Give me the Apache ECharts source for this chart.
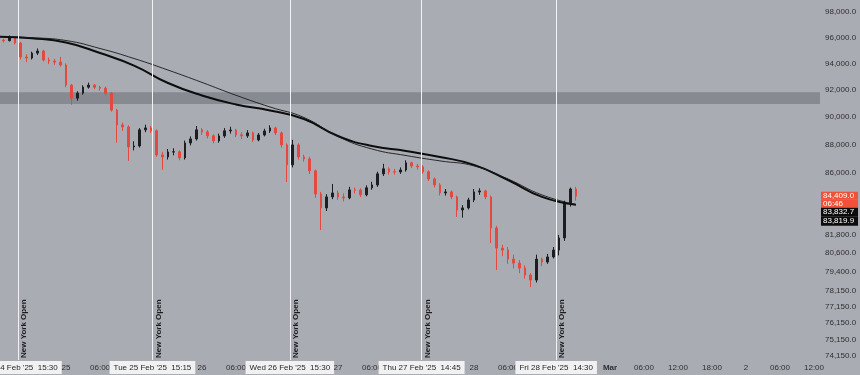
<!DOCTYPE html>
<html><head><meta charset="utf-8">
<script src="https://cdn.jsdelivr.net/npm/echarts@6/dist/echarts.min.js"></script>
<style>html,body{margin:0;padding:0;background:#a9acb2}#c{width:860px;height:375px}</style>
</head><body><div id="c"></div>
<script>
// Time unit: hours since 2025-02-25 00:00. Hourly candles starting 24 Feb 12:00.
const candleStartHour = -12;
const opens = [95700,95800,95750,95960,95570,94490,94410,94790,94950,94260,
 94180,94100,93880,92360,91390,91760,92210,92360,92200,92130,
 91760,90510,89430,89280,87850,87920,89070,89210,89000,87280,
 87140,87490,87500,87070,88130,88420,89070,88920,88640,88280,
 88630,89000,89060,88710,88640,88850,88350,88700,88990,89210,
 88850,87990,86580,87990,87140,87000,86160,84560,83610,84360,
 84630,84350,84290,84840,84830,84500,84980,85180,85950,86300,
 86090,86080,86220,86720,86500,86440,86090,85600,85180,84630,
 84700,84360,83470,83610,84150,84700,84770,84360,82260,80930,
 80800,80210,79950,79630,79180,78860,80210,80020,80350,80800,
 81600,83950,84900];
const closes = [95800,95750,95960,95570,94490,94410,94790,94950,94260,94180,
 94100,93880,92360,91390,91760,92210,92360,92200,92130,91760,
 90510,89430,89280,87850,87920,89070,89210,89000,87280,87140,
 87490,87500,87070,88130,88420,89070,88920,88640,88280,88630,
 89000,89060,88710,88640,88850,88350,88700,88990,89210,88850,
 87990,86580,87990,87140,87000,86160,84560,83610,84360,84630,
 84350,84290,84840,84830,84500,84980,85180,85950,86300,86090,
 86080,86220,86720,86500,86440,86090,85600,85180,84630,84700,
 84360,83470,83610,84150,84700,84770,84360,82260,80930,80800,
 80210,79950,79630,79180,78860,80210,80020,80350,80800,81600,
 83950,84900,84409];
const lows = [95550,95600,95700,95450,94300,94100,94300,94650,94150,93950,
 93900,93750,92200,90900,91200,91650,92100,92050,91950,91600,
 90400,88150,89000,86860,87600,87800,88900,88850,87150,86230,
 86950,87250,86900,86950,87950,88300,88700,88450,88100,88150,
 88500,88800,88550,88400,88500,88200,88250,88600,88850,88700,
 87800,85390,86400,86950,86800,85950,84300,82130,83400,84200,
 84150,84050,84200,84600,84350,84400,84850,85050,85800,85900,
 85900,85950,86100,86350,86250,85950,85450,85000,84450,84450,
 84200,83000,82950,83500,84000,84500,84200,81260,79510,80400,
 79900,79600,79300,78950,78410,78700,79750,79900,80250,80450,
 81400,83700,84100];
const highs = [95950,95900,96150,96050,95650,94700,94900,95150,95050,94450,
 94350,94500,94000,92450,91900,92350,92550,92450,92300,92250,
 91850,90600,89600,89400,88250,89200,89450,89350,89100,87500,
 87700,87750,87600,88300,88600,89350,89200,89050,88750,88800,
 89200,89300,89150,88900,89050,88950,88850,89150,89400,89300,
 88950,88100,88350,88100,87300,87150,86250,84700,84550,85250,
 84800,84600,85050,85000,84950,85150,85400,86100,86650,86400,
 86300,86400,86900,86800,86650,86550,86200,85700,85300,84900,
 84800,84450,83800,84300,84900,84950,84850,84450,82400,81150,
 81000,80500,80150,79800,79300,80500,80300,80550,81000,81800,
 84100,85000,85050];

// Moving averages (every 6 hours)
const maHours = [-12,-6,0,6,12,18,24,30,36,42,48,54,60,66,72,78,84,90];
const maThick = [96057,95932,95606,94798,93838,92518,91588,90923,90482,89857,88627,87911,87556,87139,86575,85521,84358,83820];
const maThin  = [96057,95979,95761,95144,94376,93496,92563,91603,90739,89967,88590,87698,87237,86857,86505,85590,84495,83833];

const priceTicks = [98000,96000,94000,92000,90000,88000,86000,81800,80600,79400,78150,77150,76150,75150,74150];
const timeTickHours = [0,6,24,30,48,54,72,78,96,102,108,114,120,126,132];
const timeTickLabels = ['25','06:00','26','06:00','27','06:00','28','06:00','Mar','06:00','12:00','18:00','2','06:00','12:00'];
const nyOpenHours = [-8.5, 15.25, 39.5, 62.75, 86.5];
const nyOpenLabels = ["Mon 24 Feb '25  15:30","Tue 25 Feb '25  15:15","Wed 26 Feb '25  15:30","Thu 27 Feb '25  14:45","Fri 28 Feb '25  14:30"];
const nyOpenText = 'New York Open';
const zoneRange = [90960, 91820];
const lastPrice = 84409.0;
const countdown = '06:46';
const maLast = [83832.7, 83819.9];
const xRange = [-11.65, 133.06];
const yRange = [73910, 98960];

const FONT = 'Liberation Sans, Arial, sans-serif';
const fmt = v => (Math.round(v * 10) / 10).toLocaleString('en-US', {minimumFractionDigits: 1, maximumFractionDigits: 1});
const L = Math.log;

const candleRows = opens.map((o, i) => [candleStartHour + i, L(o), L(closes[i]), L(lows[i]), L(highs[i])]);
const thickRows = maHours.map((h, i) => [h, L(maThick[i])]);
const thinRows = maHours.map((h, i) => [h, L(maThin[i])]);

const chart = echarts.init(document.getElementById('c'), null, {renderer: 'canvas'});
chart.setOption({
  animation: false,
  backgroundColor: '#a9acb2',
  textStyle: {fontFamily: FONT},
  grid: {left: 0, right: 40, top: 0, bottom: 15, outerBoundsMode: 'none', containLabel: false},
  xAxis: [{
    type: 'value', min: xRange[0], max: xRange[1],
    axisLine: {show: false}, axisTick: {show: false}, splitLine: {show: false},
    axisLabel: {
      customValues: timeTickHours, margin: 4, fontSize: 8, color: '#2e2f33', fontFamily: FONT,
      formatter: v => { const i = timeTickHours.indexOf(v); const t = timeTickLabels[i]; return t === 'Mar' ? '{b|Mar}' : t; },
      rich: {b: {fontWeight: 'bold', fontSize: 8, color: '#2e2f33', fontFamily: FONT}}
    }
  }, {
    type: 'value', min: xRange[0], max: xRange[1], position: 'bottom',
    axisLine: {show: false}, axisTick: {show: false}, splitLine: {show: false},
    axisLabel: {
      customValues: nyOpenHours, margin: 1, fontSize: 8, color: '#1f2024', fontFamily: FONT,
      backgroundColor: '#f1f1f2', padding: [3, 4, 2, 4],
      formatter: v => nyOpenLabels[nyOpenHours.indexOf(v)]
    }
  }],
  yAxis: [{
    type: 'value', position: 'right', min: L(yRange[0]), max: L(yRange[1]),
    axisLine: {show: false}, axisTick: {show: false}, splitLine: {show: false},
    axisLabel: {
      customValues: priceTicks.map(L), margin: 5, fontSize: 8, color: '#2e2f33', fontFamily: FONT,
      formatter: v => fmt(Math.exp(v))
    }
  }, {
    type: 'value', position: 'right', min: L(yRange[0]), max: L(yRange[1]),
    axisLine: {show: false}, axisTick: {show: false}, splitLine: {show: false},
    axisLabel: {
      customValues: [L(lastPrice)], margin: 1, fontFamily: FONT,
      formatter: () => '{s| }\n{r|' + fmt(lastPrice) + '}\n{r|' + countdown + '}\n{k|' + fmt(maLast[0]) + '}\n{k|' + fmt(maLast[1]) + '}',
      rich: {
        s: {height: 25, lineHeight: 25, fontSize: 8},
        r: {backgroundColor: '#ef5239', color: '#ffffff', width: 35, height: 8, lineHeight: 8, padding: [0, 0, 0, 2], fontSize: 8, fontFamily: FONT},
        k: {backgroundColor: '#0c0c0d', color: '#ffffff', width: 35, height: 9, lineHeight: 9, padding: [0, 0, 0, 2], fontSize: 8, fontFamily: FONT}
      }
    }
  }],
  series: [{
    type: 'candlestick',
    data: candleRows,
    encode: {x: 0, y: [1, 2, 3, 4]},
    barWidth: 2,
    itemStyle: {color: '#1d1e22', color0: '#e4493f', borderColor: '#1d1e22', borderColor0: '#e4493f', borderWidth: 1},
    markArea: {
      silent: true,
      itemStyle: {color: '#878a90'},
      data: [[{yAxis: L(zoneRange[0])}, {yAxis: L(zoneRange[1])}]]
    },
    markLine: {
      silent: true, symbol: ['none', 'none'], animation: false,
      data: nyOpenHours.map(h => ({
        xAxis: h,
        lineStyle: {color: '#f2f2f3', width: 1, type: 'solid'},
        label: {show: true, formatter: nyOpenText, position: 'insideStartBottom', color: '#1c1d20',
                fontWeight: 'bold', fontSize: 8, fontFamily: FONT, distance: 2}
      }))
    }
  }, {
    type: 'line', data: thickRows, smooth: 0.5, symbol: 'none',
    lineStyle: {color: '#0d0d0e', width: 2}
  }, {
    type: 'line', data: thinRows, smooth: 0.5, symbol: 'none',
    lineStyle: {color: '#1a1a1c', width: 0.9}
  }]
});
</script>
</body></html>
